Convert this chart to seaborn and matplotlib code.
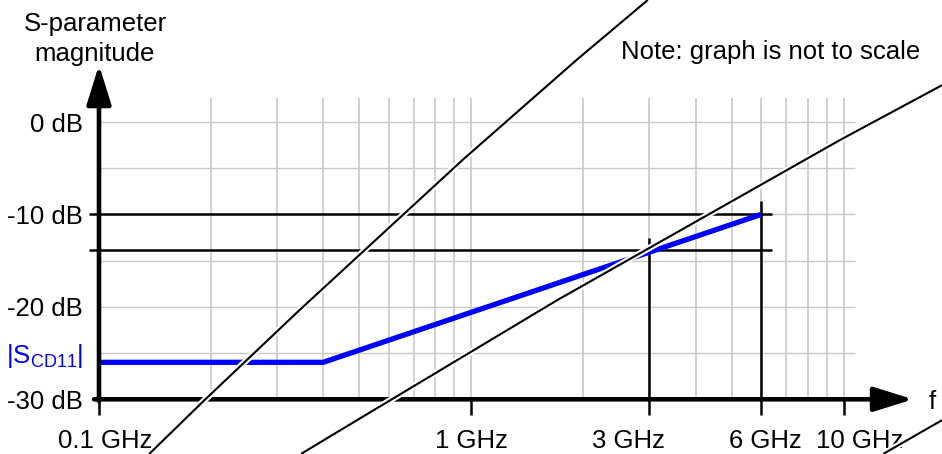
import matplotlib
matplotlib.use("Agg")
import matplotlib.pyplot as plt
import matplotlib.patheffects as pe
import pandas as pd
import seaborn as sns

# |S_CD11| asymptotic response (GHz, dB)
scd11_freq = [0.1, 0.4, 6.0]
scd11_db = [-26.0, -26.0, -10.0]

level_db = [-10.0, -13.8]
marker_freq = [3.0, 6.0]
marker_top_db = [-12.5, -8.6]

y_ticks = [0, -10, -20, -30]
y_tick_labels = ["0 dB", "-10 dB", "-20 dB", "-30 dB"]
x_ticks = [0.1, 1, 3, 6, 10]
x_tick_labels = ["0.1 GHz", "1 GHz", "3 GHz", "6 GHz", "10 GHz"]
x_label_shift = [6, 0, -21, 4, 16]   # pixels

grid_freq = [0.2, 0.3, 0.4, 0.5, 0.6, 0.7, 0.8, 0.9,
             1, 2, 3, 4, 5, 6, 7, 8, 9, 10]
grid_db = [-30, -25, -20, -15, -10, -5, 0]

# slanted guide lines (GHz, dB)
guide1_freq = [0.1365, 0.1919, 0.3455, 0.9476, 1.915, 2.978]
guide1_db = [-35.9, -30.1, -20.35, -4.1, 6.7, 13.2]
guide2_freq = [0.349, 0.5006, 1.696, 9.773, 18.4]
guide2_db = [-35.9, -32.1, -19.3, -1.95, 4.0]
guide3_freq = [12.78, 18.38]
guide3_db = [-35.9, -32.25]

sns.set_theme(style="white")
plt.rcParams["font.family"] = ["Liberation Sans", "DejaVu Sans"]
plt.rcParams["text.color"] = "black"

W, H = 942, 454
fig = plt.figure(figsize=(W / 100, H / 100), dpi=100)
x0, x1 = 99, 843.7
y0, y1 = 399.3, 122
ax = fig.add_axes([x0 / W, 1 - y0 / H, (x1 - x0) / W, (y0 - y1) / H])
ax.set_xscale("log")
ax.set_xlim(0.1, 10)
ax.set_ylim(-30, 0)
ax.set_axis_off()

FS = 18.5
GRAY = "#c8c8c8"

# background grid
ax.vlines(grid_freq, -30, 2.6, color=GRAY, lw=1.2, zorder=1, clip_on=False)
ax.hlines(grid_db, 0.1, 10.7, color=GRAY, lw=1.0, zorder=1, clip_on=False)

# reference levels and marker frequencies
ax.hlines(level_db, 0.0942, 6.4, color="black", lw=1.8, zorder=3, clip_on=False)
ax.vlines(marker_freq, -31.7, marker_top_db, color="black", lw=1.8,
          zorder=3, clip_on=False)
ax.vlines([0.1, 1, 10], -31.7, -30, color="black", lw=1.8, zorder=3,
          clip_on=False)

# response curve
df = pd.DataFrame({"freq": scd11_freq, "db": scd11_db})
sns.lineplot(data=df, x="freq", y="db", ax=ax, color="#0000ff", lw=3.8,
             sort=False, zorder=4)
for ln in ax.lines:
    ln.set_clip_on(False)
    ln.set_solid_capstyle("butt")

# axes with arrow heads
arrow_kw = dict(arrowstyle="-|>,head_length=24,head_width=7.5",
                mutation_scale=1, lw=3.3, color="black",
                shrinkA=0, shrinkB=0)
ax.annotate("", xy=(15.36, -30), xytext=(0.097, -30),
            arrowprops=arrow_kw, zorder=5, annotation_clip=False)
ax.annotate("", xy=(0.1, 6.17), xytext=(0.1, -30.2),
            arrowprops=arrow_kw, zorder=5, annotation_clip=False)

# slanted guide lines with white halo
halo = [pe.withStroke(linewidth=4.5, foreground="white")]
for gx, gy in [(guide1_freq, guide1_db), (guide2_freq, guide2_db),
               (guide3_freq, guide3_db)]:
    ax.plot(gx, gy, color="black", lw=1.5, clip_on=False, zorder=7,
            path_effects=halo, solid_capstyle="butt")

# tick labels
for v, lab in zip(y_ticks, y_tick_labels):
    ax.annotate(lab, xy=(0.1, v), xytext=(-16, 0), textcoords="offset pixels",
                ha="right", va="center_baseline", fontsize=FS,
                annotation_clip=False)
for v, lab, dx in zip(x_ticks, x_tick_labels, x_label_shift):
    ax.annotate(lab, xy=(v, -30), xytext=(dx, -39), textcoords="offset pixels",
                ha="center", va="center_baseline", fontsize=FS,
                annotation_clip=False)

ax.annotate(r"|S$_{\mathregular{CD11}}$|", xy=(0.1, -26), xytext=(-16, 10),
            textcoords="offset pixels", ha="right", va="center_baseline",
            fontsize=FS, color="#0000ff", annotation_clip=False)
ax.annotate("f", xy=(15.36, -30), xytext=(19, 0), textcoords="offset pixels",
            ha="center", va="center_baseline", fontsize=FS,
            annotation_clip=False)

fig.text(95 / W, 1 - 22 / H, "S-parameter", ha="center", va="center_baseline",
         fontsize=FS)
fig.text(95 / W, 1 - 52 / H, "magnitude", ha="center", va="center_baseline",
         fontsize=FS)
fig.text(771 / W, 1 - 50 / H, "Note: graph is not to scale", ha="center",
         va="center_baseline", fontsize=FS)

fig.savefig("out.png", dpi=100, facecolor="white")
